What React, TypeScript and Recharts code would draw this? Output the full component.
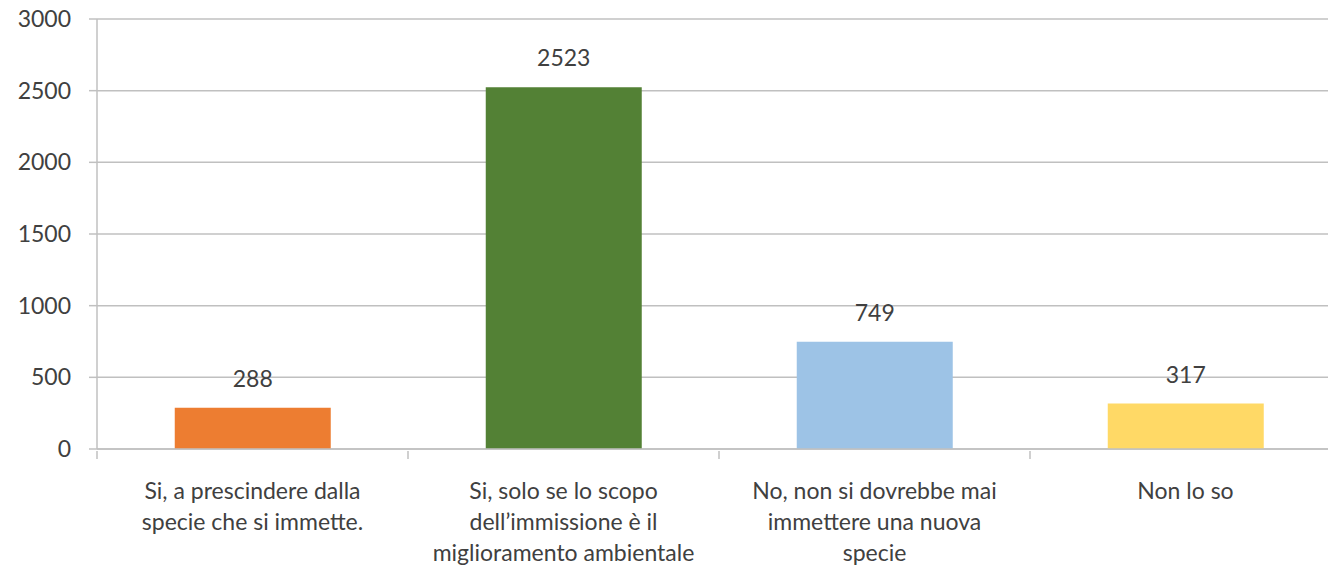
import React from 'react';
import { BarChart, Bar, CartesianGrid, XAxis, YAxis, LabelList, Cell } from 'recharts';

const categories = [
  'Si, a prescindere dalla specie che si immette.',
  'Si, solo se lo scopo dell’immissione è il miglioramento ambientale',
  'No, non si dovrebbe mai immettere una nuova specie',
  'Non lo so',
];
const categoryLines = [
  ['Si, a prescindere dalla', 'specie che si immette.'],
  ['Si, solo se lo scopo', 'dell’immissione è il', 'miglioramento ambientale'],
  ['No, non si dovrebbe mai', 'immettere una nuova', 'specie'],
  ['Non lo so'],
];
const values = [288, 2523, 749, 317];
const barColors = ['#ED7D31', '#538135', '#9DC3E6', '#FFD966'];
const yTicks = [0, 500, 1000, 1500, 2000, 2500, 3000];

const data = categories.map((name, i) => ({ name, value: values[i], idx: i }));

const FONT = 'Lato, "Open Sans", sans-serif';
const TEXT = '#404040';
const GRID = '#C0C0C0';

function CategoryTick(props: any) {
  const { x, y, index, payload } = props;
  const lines = categoryLines[index] || [];
  const half = payload && typeof payload.offset === 'number' ? payload.offset : 0;
  return (
    <g>
      {half > 0 && (
        <line x1={x - half} x2={x - half} y1={y - 8} y2={y} stroke={GRID} strokeWidth={1.5} />
      )}
      {lines.map((ln, k) => (
        <text
          key={k}
          x={x}
          y={y + 40 + k * 31}
          textAnchor="middle"
          fill={TEXT}
          fontSize={23}
          fontFamily={FONT}
        >
          {ln}
        </text>
      ))}
    </g>
  );
}

export default function App() {
  return (
    <div style={{ position: 'fixed', left: 0, top: 0, width: 1328, height: 567, overflow: 'hidden', background: '#fff' }}>
      <BarChart
        width={1345}
        height={567}
        data={data}
        margin={{ top: 19, right: 4, left: 0, bottom: 0 }}
        barCategoryGap="25%"
      >
        <CartesianGrid stroke={GRID} strokeWidth={1.5} vertical={false} />
        <XAxis
          dataKey="name"
          height={118}
          interval={0}
          axisLine={{ stroke: GRID, strokeWidth: 1.5 }}
          tickLine={false}
          tickSize={8}
          tick={<CategoryTick />}
        />
        <YAxis
          width={97}
          domain={[0, 3000]}
          ticks={yTicks}
          interval={0}
          axisLine={{ stroke: GRID, strokeWidth: 1.5 }}
          tickLine={{ stroke: GRID, strokeWidth: 1.5 }}
          tickSize={8}
          tickMargin={18}
          tick={{ fill: TEXT, fontSize: 23, fontFamily: FONT }}
        />
        <Bar dataKey="value" isAnimationActive={false}>
          {data.map((d) => (
            <Cell key={d.idx} fill={barColors[d.idx]} />
          ))}
          <LabelList
            dataKey="value"
            position="top"
            offset={21}
            fill={TEXT}
            fontSize={23}
            fontFamily={FONT}
          />
        </Bar>
      </BarChart>
    </div>
  );
}
